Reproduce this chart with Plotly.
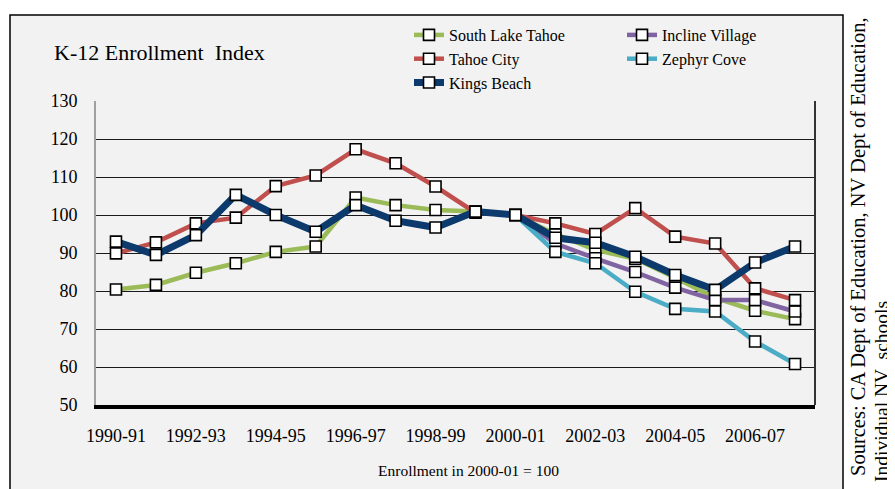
import plotly.graph_objects as go

years = ["1990-91", "1991-92", "1992-93", "1993-94", "1994-95", "1995-96",
         "1996-97", "1997-98", "1998-99", "1999-00", "2000-01", "2001-02",
         "2002-03", "2003-04", "2004-05", "2005-06", "2006-07", "2007-08"]
tick_labels = ["1990-91", "1992-93", "1994-95", "1996-97", "1998-99",
               "2000-01", "2002-03", "2004-05", "2006-07"]

south_lake_tahoe = [80.4, 81.6, 84.8, 87.3, 90.3, 91.7, 104.6, 102.6, 101.3,
                    100.9, 100.0, 95.0, 90.8, 88.5, 83.5, 78.2, 74.8, 72.6]
incline_village = [None] * 10 + [100.0, 92.5, 88.6, 85.0, 80.9, 77.6, 77.6, 74.6]
tahoe_city = [89.9, 92.8, 97.8, 99.3, 107.6, 110.4, 117.3, 113.6, 107.5,
              100.6, 100.0, 97.8, 95.0, 101.8, 94.3, 92.5, 80.7, 77.6]
zephyr_cove = [None] * 10 + [100.0, 90.3, 87.3, 79.8, 75.3, 74.6, 66.7, 60.8]
kings_beach = [93.0, 89.5, 94.7, 105.3, 100.0, 95.6, 102.6, 98.5, 96.7,
               100.9, 100.0, 94.0, 92.7, 89.0, 84.2, 80.3, 87.5, 91.7]

series = [
    ("South Lake Tahoe", south_lake_tahoe, "#9BBB59", 4.5, "legend"),
    ("Incline Village", incline_village, "#8064A2", 4.5, "legend2"),
    ("Tahoe City", tahoe_city, "#C0504D", 4.5, "legend"),
    ("Zephyr Cove", zephyr_cove, "#4BACC6", 4.5, "legend2"),
    ("Kings Beach", kings_beach, "#0D3A6C", 7, "legend"),
]

FONT = "Liberation Serif, Times New Roman, serif"

fig = go.Figure()
for name, vals, color, width, leg in series:
    fig.add_trace(go.Scatter(
        x=years, y=vals, name=name, mode="lines+markers",
        line=dict(color=color, width=width),
        marker=dict(symbol="square", size=11, color="white",
                    line=dict(color="black", width=1.6)),
        legend=leg,
    ))

# page body has an 8px margin, so the figure is drawn offset by (8, 8)
OFF = 8
W, H = 895, 489
# plot area in reference (screen) pixels: x 96..815, y 101..405
L = 96 - OFF
T = 101 - OFF
R = W - (815 - OFF)
B = H - (405 - OFF)
pw, ph = W - L - R, H - T - B

def px(x):
    return (x - OFF - L) / pw

def py(y):
    return (H - B - (y - OFF)) / ph

fig.update_layout(
    width=W, height=H,
    margin=dict(l=L, r=R, t=T, b=B, autoexpand=False),
    paper_bgcolor="white",
    plot_bgcolor="#F2F2F2",
    font=dict(family=FONT, size=17, color="black"),
    legend=dict(x=px(409), y=py(18), xanchor="left", yanchor="top",
                bgcolor="rgba(0,0,0,0)", font=dict(size=16, family=FONT),
                tracegroupgap=0),
    legend2=dict(x=px(622), y=py(18), xanchor="left", yanchor="top",
                 bgcolor="rgba(0,0,0,0)", font=dict(size=16, family=FONT),
                 tracegroupgap=0),
    xaxis=dict(
        type="category", categoryorder="array", categoryarray=years,
        range=[-0.5, len(years) - 0.5],
        tickvals=tick_labels, ticktext=tick_labels,
        showgrid=False, showline=True, linecolor="black", linewidth=4,
        ticks="outside", ticklen=11, tickcolor="rgba(0,0,0,0)",
        tickfont=dict(size=18, family=FONT),
        zeroline=False,
    ),
    yaxis=dict(
        range=[50, 130], dtick=10, tick0=50,
        showgrid=True, gridcolor="#1a1a1a", gridwidth=1.3,
        showline=True, linecolor="#A0A0A0", linewidth=2,
        ticks="outside", ticklen=13, tickcolor="rgba(0,0,0,0)",
        tickfont=dict(size=18, family=FONT),
        zeroline=False,
    ),
    shapes=[
        dict(type="rect", xref="paper", yref="paper",
             x0=px(10), x1=px(843), y0=py(520), y1=py(15),
             line=dict(color="black", width=1.5), fillcolor="#F2F2F2",
             layer="below"),
        dict(type="line", xref="paper", yref="paper",
             x0=1, x1=1, y0=0, y1=1,
             line=dict(color="#333333", width=2)),
    ],
    annotations=[
        dict(text="K-12 Enrollment  Index", xref="paper", yref="paper",
             x=px(52), y=py(53), xanchor="left", yanchor="middle",
             showarrow=False, font=dict(size=22, family=FONT)),
        dict(text="Enrollment in 2000-01 = 100", xref="paper", yref="paper",
             x=px(468), y=py(470), xanchor="center", yanchor="middle",
             showarrow=False, font=dict(size=15.5, family=FONT)),
        dict(text="Sources: CA Dept of Education, NV Dept of Education,",
             xref="paper", yref="paper", x=px(858), y=py(247),
             xanchor="center", yanchor="middle", textangle=-90,
             showarrow=False, font=dict(size=20.5, family=FONT)),
        dict(text="Individual NV  schools",
             xref="paper", yref="paper", x=px(881), y=py(392),
             xanchor="center", yanchor="middle", textangle=-90,
             showarrow=False, font=dict(size=19.5, family=FONT)),
    ],
)

fig.write_html("out.html")
